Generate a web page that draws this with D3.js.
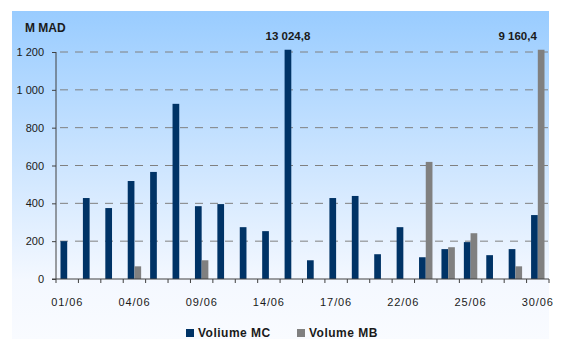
<!DOCTYPE html>
<html lang="en">
<head>
  <meta charset="UTF-8">
  <title>Volumes</title>
  <style>
    body { margin: 0; background: #fff; }
    svg { display: block; font-family: "Liberation Sans", Arial, sans-serif; }
  </style>
</head>
<body>
  <svg width="567" height="339"></svg>
  <script src="https://d3js.org/d3.v7.min.js"></script>
  <script>

  // trading days of June
  var days = ['01/06','02/06','03/06','04/06','07/06','08/06','09/06','10/06','11/06','14/06','15/06',
              '16/06','17/06','18/06','21/06','22/06','23/06','24/06','25/06','28/06','29/06','30/06'];

  // M MAD (two bars overflow the axis)
  var volumeMC = [200, 428, 375, 518, 566, 926, 385, 396, 274, 253, 13024.8,
                  99, 428, 439, 131, 274, 115, 158, 195, 126, 158, 338];
  var volumeMB = [0, 0, 0, 67, 0, 0, 99, 0, 0, 0, 0,
                  0, 0, 0, 0, 0, 619, 168, 242, 0, 67, 9160.4];

  var yTicks = [0, 200, 400, 600, 800, 1000, 1200];
  var xLabelEvery = 3;

  var series = [
    { key: 'MC', name: 'Voliume MC', values: volumeMC, color: '#003366' },
    { key: 'MB', name: 'Volume MB', values: volumeMB, color: '#808080' }
  ];

  var svg = d3.select('svg');

  var plotLeft = 56, plotRight = 549, plotTop = 52, plotBottom = 279;
  var yMax = 1200, yCap = 1212;

  // background gradient panel
  var grad = svg.append('defs').append('linearGradient')
    .attr('id', 'bg').attr('x1', 0).attr('y1', 0).attr('x2', 0).attr('y2', 1);
  grad.append('stop').attr('offset', 0).attr('stop-color', '#99ccff');
  grad.append('stop').attr('offset', 0.82).attr('stop-color', '#f4f8ff');
  grad.append('stop').attr('offset', 1).attr('stop-color', '#f9fbff');

  svg.append('rect')
    .attr('x', 12).attr('y', 11)
    .attr('width', plotRight - 12).attr('height', 339 - 11)
    .attr('fill', 'url(#bg)');

  var x = d3.scaleBand().domain(days).range([plotLeft, plotRight]).padding(0);
  var xs = d3.scaleBand().domain(series.map(function(s) { return s.key; }))
    .range([0, x.bandwidth()]).paddingOuter(0.67).paddingInner(0);
  var y = d3.scaleLinear().domain([0, yMax]).range([plotBottom, plotTop]);

  // grid
  svg.append('g')
    .selectAll('line')
    .data(yTicks.slice(1))
    .enter()
    .append('line')
    .attr('x1', plotLeft).attr('x2', plotRight)
    .attr('y1', function(d) { return y(d); })
    .attr('y2', function(d) { return y(d); })
    .attr('stroke', '#808080')
    .attr('stroke-width', 1)
    .attr('stroke-dasharray', '8,7')
    .attr('stroke-dashoffset', -4);

  // bars
  series.forEach(function(s) {
    svg.append('g')
      .selectAll('rect')
      .data(s.values)
      .enter()
      .append('rect')
      .attr('x', function(d, i) { return x(days[i]) + xs(s.key); })
      .attr('width', xs.bandwidth())
      .attr('y', function(d) { return y(Math.min(d, yCap)); })
      .attr('height', function(d) { return plotBottom - y(Math.min(d, yCap)); })
      .attr('fill', s.color);
  });

  // y axis
  var yAxis = svg.append('g')
    .attr('transform', 'translate(' + plotLeft + ',0)')
    .call(d3.axisLeft(y).tickValues(yTicks).tickSize(4).tickPadding(8)
      .tickFormat(function(d) { return d3.format(',')(d).replace(/,/g, ' '); }));
  yAxis.select('.domain').attr('d', 'M0,' + plotTop + 'V' + plotBottom);
  yAxis.selectAll('.domain, .tick line').attr('stroke', '#404040');
  yAxis.selectAll('text').attr('font-size', 11).attr('fill', '#1a1a1a')
    .attr('font-family', '"Liberation Sans", Arial, sans-serif');

  // x axis
  var xAxis = svg.append('g')
    .attr('transform', 'translate(0,' + plotBottom + ')');
  xAxis.append('line')
    .attr('x1', plotLeft - 4).attr('x2', plotRight)
    .attr('stroke', '#404040');
  xAxis.selectAll('.tk')
    .data(days.concat(['end']))
    .enter()
    .append('line')
    .attr('class', 'tk')
    .attr('x1', function(d, i) { return plotLeft + i * x.step(); })
    .attr('x2', function(d, i) { return plotLeft + i * x.step(); })
    .attr('y1', 0).attr('y2', 4)
    .attr('stroke', '#404040');
  xAxis.selectAll('text')
    .data(days.filter(function(d, i) { return i % xLabelEvery === 0; }))
    .enter()
    .append('text')
    .attr('x', function(d) { return x(d) + x.bandwidth() / 2; })
    .attr('y', 27)
    .attr('text-anchor', 'middle')
    .attr('font-size', 11)
    .attr('letter-spacing', 0.9)
    .attr('fill', '#1a1a1a')
    .text(function(d) { return d; });

  // unit
  svg.append('text')
    .attr('x', 25).attr('y', 32)
    .attr('font-size', 12).attr('font-weight', 'bold').attr('fill', '#1a1a1a')
    .text('M MAD');

  // overflow labels
  var fmt = function(v) { return d3.format(',.1f')(v).replace(/,/g, ' ').replace('.', ','); };
  var iMC = volumeMC.indexOf(d3.max(volumeMC));
  var iMB = volumeMB.indexOf(d3.max(volumeMB));
  svg.append('text')
    .attr('x', x(days[iMC]) + xs('MC') + xs.bandwidth() / 2)
    .attr('y', 40)
    .attr('text-anchor', 'middle')
    .attr('font-size', 11.5).attr('font-weight', 'bold').attr('fill', '#1a1a1a')
    .text(fmt(volumeMC[iMC]));
  svg.append('text')
    .attr('x', x(days[iMB]) + xs('MB') - 1)
    .attr('y', 40)
    .attr('text-anchor', 'end')
    .attr('font-size', 11.5).attr('font-weight', 'bold').attr('fill', '#1a1a1a')
    .text(fmt(volumeMB[iMB]));

  // legend
  var legend = svg.append('g')
    .selectAll('g')
    .data(series)
    .enter()
    .append('g')
    .attr('transform', function(d, i) { return 'translate(' + (186 + i * 111) + ',329)'; });
  legend.append('rect')
    .attr('width', 8).attr('height', 8)
    .attr('fill', function(d) { return d.color; });
  legend.append('text')
    .attr('x', 12).attr('y', 8)
    .attr('font-size', 12).attr('font-weight', 'bold')
    .attr('letter-spacing', 0.5).attr('fill', '#1a1a1a')
    .text(function(d) { return d.name; });

  </script>
</body>
</html>
